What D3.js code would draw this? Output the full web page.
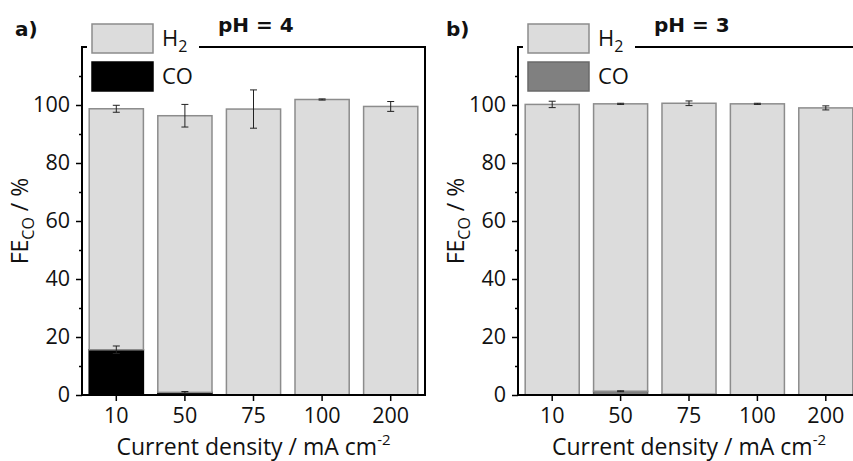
<!DOCTYPE html>
<html>
<head>
<meta charset="utf-8">
<script src="https://cdn.jsdelivr.net/npm/d3@7"></script>
<style>
  body { margin: 0; background: #fff; }
  svg { display: block; font-family: "Open Sans", "Noto Sans", sans-serif; }
</style>
</head>
<body>
<svg id="chart" width="853" height="461"></svg>
<script>
'use strict';

// current densities (mA cm-2)
var categories = ['10', '50', '75', '100', '200'];

// pH = 4
var h2Ph4 = [83.1, 95.4, 98.6, 101.9, 99.5];
var h2ErrPh4 = [1.2, 3.9, 6.6, 0.2, 1.7];
var coPh4 = [15.6, 0.9, 0, 0, 0];
var coErrPh4 = [1.3, 0.3, 0, 0, 0];

// pH = 3
var h2Ph3 = [100.2, 99.1, 100.3, 100.4, 99.0];
var h2ErrPh3 = [1.1, 0.2, 0.8, 0.2, 0.7];
var coPh3 = [0, 1.3, 0.3, 0, 0];
var coErrPh3 = [0, 0.15, 0, 0, 0];

var yMajor = [0, 20, 40, 60, 80, 100];
var yMinor = [10, 30, 50, 70, 90, 110];

var svg = d3.select('#chart');

function drawPanel(opts) {
  var left = opts.left, right = opts.right;
  var top = 47, bottom = 395;

  var rows = categories.map(function(c, i) {
    return { cat: c, co: opts.co[i], h2: opts.h2[i], coErr: opts.coErr[i], h2Err: opts.h2Err[i] };
  });

  var x = d3.scaleBand().domain(categories).range([left, right]).paddingInner(0.21).paddingOuter(0.105);
  var y = d3.scaleLinear().domain([0, 120]).range([bottom, top]);

  var stack = d3.stack().keys(['co', 'h2'])(rows);
  var g = svg.append('g');

  // bars, CO at the bottom, H2 stacked on top
  g.selectAll('g.layer')
    .data(stack)
    .enter()
    .append('g')
    .attr('class', 'layer')
    .each(function(layer) {
      var isCo = layer.key === 'co';
      d3.select(this).selectAll('rect')
        .data(layer.filter(function(d) { return d[1] - d[0] > 0; }))
        .enter()
        .append('rect')
        .attr('x', function(d) { return x(d.data.cat); })
        .attr('width', x.bandwidth())
        .attr('y', function(d) { return y(d[1]); })
        .attr('height', function(d) { return y(d[0]) - y(d[1]); })
        .attr('fill', isCo ? opts.coColor : '#dcdcdc')
        .attr('stroke', isCo ? opts.coStroke : '#8c8c8c')
        .attr('stroke-width', 1.5);
    });

  // error bars
  var errs = [];
  rows.forEach(function(r) {
    if (r.coErr > 0) errs.push({ cat: r.cat, v: r.co, e: r.coErr });
    errs.push({ cat: r.cat, v: r.co + r.h2, e: r.h2Err });
  });
  var eg = g.selectAll('g.err')
    .data(errs)
    .enter()
    .append('g')
    .attr('class', 'err')
    .attr('stroke', '#222')
    .attr('stroke-width', 1);
  var cx = function(d) { return x(d.cat) + x.bandwidth() / 2; };
  eg.append('line')
    .attr('x1', cx).attr('x2', cx)
    .attr('y1', function(d) { return y(d.v - d.e); })
    .attr('y2', function(d) { return y(d.v + d.e); });
  [-1, 1].forEach(function(s) {
    eg.append('line')
      .attr('x1', function(d) { return cx(d) - 3.5; })
      .attr('x2', function(d) { return cx(d) + 3.5; })
      .attr('y1', function(d) { return y(d.v + s * d.e); })
      .attr('y2', function(d) { return y(d.v + s * d.e); });
  });

  // axes
  var yAxis = d3.axisLeft(y).tickValues(yMajor).tickSize(6).tickPadding(6).tickFormat(d3.format('d'));
  var ya = g.append('g').attr('transform', 'translate(' + left + ',0)').call(yAxis);
  ya.select('.domain').remove();
  g.append('g').attr('transform', 'translate(' + left + ',0)')
    .call(d3.axisLeft(y).tickValues(yMinor).tickSize(3).tickFormat(''))
    .select('.domain').remove();

  var xAxis = d3.axisBottom(x).tickSize(6).tickPadding(7);
  var xa = g.append('g').attr('transform', 'translate(0,' + bottom + ')').call(xAxis);
  xa.select('.domain').remove();

  g.selectAll('.tick line').attr('stroke', '#000').attr('stroke-width', 1.5);
  g.selectAll('.tick text').attr('font-size', 21.5).attr('fill', '#111')
    .attr('font-family', '"Open Sans", sans-serif');

  // frame
  var frame = d3.path();
  frame.moveTo(left + 5, top);
  frame.lineTo(left, top);
  frame.lineTo(left, bottom);
  frame.lineTo(right, bottom);
  frame.lineTo(right, top);
  frame.lineTo(left + 117, top);
  g.append('path').attr('d', frame.toString()).attr('fill', 'none')
    .attr('stroke', '#000').attr('stroke-width', 2);

  // legend
  var lg = g.append('g').attr('transform', 'translate(' + (left + 10) + ',24)');
  var items = [
    { label: 'H', sub: '2', fill: '#dcdcdc', stroke: '#8c8c8c' },
    { label: 'CO', sub: '', fill: opts.coColor, stroke: opts.coStroke }
  ];
  var li = lg.selectAll('g').data(items).enter().append('g')
    .attr('transform', function(d, i) { return 'translate(0,' + i * 38 + ')'; });
  li.append('rect').attr('width', 61).attr('height', 29)
    .attr('fill', function(d) { return d.fill; })
    .attr('stroke', function(d) { return d.stroke; })
    .attr('stroke-width', 1.5);
  var lt = li.append('text').attr('x', 70).attr('y', 22).attr('font-size', 22).attr('fill', '#111');
  lt.append('tspan').text(function(d) { return d.label; });
  lt.append('tspan').attr('dy', 6).attr('font-size', 16).text(function(d) { return d.sub; });

  // titles
  svg.append('text').attr('x', opts.tagX).attr('y', 36)
    .attr('font-family', '"DejaVu Sans", sans-serif')
    .attr('font-size', 20).attr('font-weight', 'bold').attr('fill', '#111').text(opts.tag);
  svg.append('text').attr('x', left + 136).attr('y', 32)
    .attr('font-family', '"DejaVu Sans", sans-serif')
    .attr('font-size', 20).attr('font-weight', 'bold').attr('fill', '#111').text(opts.title);

  var xt = svg.append('text').attr('x', (left + right) / 2).attr('y', 455)
    .attr('text-anchor', 'middle').attr('font-size', 23).attr('fill', '#111');
  xt.append('tspan').text('Current density / mA cm');
  xt.append('tspan').attr('dy', -10).attr('font-size', 15).text('-2');

  var yt = svg.append('text')
    .attr('transform', 'translate(' + opts.yTitleX + ',' + ((top + bottom) / 2) + ') rotate(-90)')
    .attr('text-anchor', 'middle').attr('font-size', 23).attr('fill', '#111');
  yt.append('tspan').text('FE');
  yt.append('tspan').attr('dy', 6).attr('font-size', 16).text('CO');
  yt.append('tspan').attr('dy', -6).text(' / %');
}

drawPanel({
  left: 82, right: 425, tagX: 15, tag: 'a)', title: 'pH = 4', yTitleX: 28,
  h2: h2Ph4, h2Err: h2ErrPh4, co: coPh4, coErr: coErrPh4,
  coColor: '#000000', coStroke: '#000000'
});

drawPanel({
  left: 518, right: 860, tagX: 446, tag: 'b)', title: 'pH = 3', yTitleX: 464,
  h2: h2Ph3, h2Err: h2ErrPh3, co: coPh3, coErr: coErrPh3,
  coColor: '#808080', coStroke: '#6a6a6a'
});
</script>
</body>
</html>
